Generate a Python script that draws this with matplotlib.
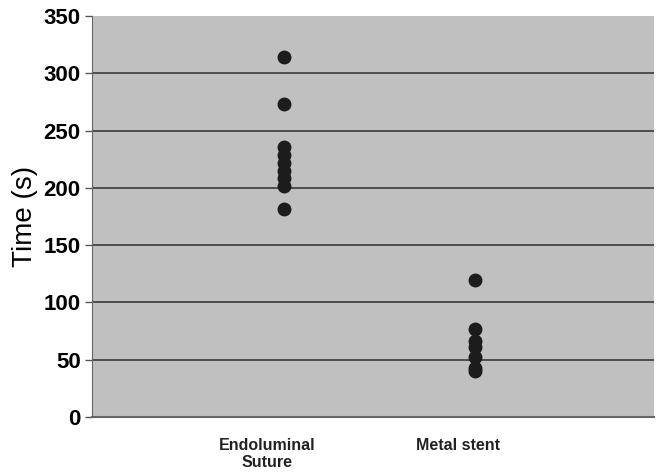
import numpy as np
import matplotlib.pyplot as plt
import matplotlib.transforms as mtransforms

plt.rcParams['font.family'] = ['Liberation Sans', 'DejaVu Sans']

categories = ["Endoluminal\nSuture", "Metal stent"]
suture_times = [314, 273, 236, 229, 222, 215, 209, 202, 182]
stent_times = [120, 77, 66, 61, 52, 43, 40]
yticks = [0, 50, 100, 150, 200, 250, 300, 350]

fig = plt.figure(figsize=(6.57, 4.72), dpi=100)
ax = fig.add_axes([0.140, 0.1165, 0.855, 0.8495])
ax.set_facecolor('#c0c0c0')

for i, vals in enumerate([suture_times, stent_times]):
    ax.plot([i + 1] * len(vals), vals, 'o', color='#1c1c1c',
            markersize=9, zorder=3)

ax.set_xlim(0, 2.93)
ax.set_ylim(0, 350)
ax.set_yticks(yticks)
ax.set_yticklabels([str(v) for v in yticks], fontsize=16, fontweight='bold')
ax.set_xticks([1, 2])
ax.set_xticklabels(categories, fontsize=11.5, fontweight='bold', color='#222222',
                   linespacing=1.15)
ax.tick_params(axis='x', length=0, pad=15)
ax.tick_params(axis='y', length=5, width=1, color='#555555', pad=3)

# labels sit a bit left of the dot columns in the original
shift = mtransforms.ScaledTranslation(-17 / 100, 0, fig.dpi_scale_trans)
for lab in ax.get_xticklabels():
    lab.set_transform(lab.get_transform() + shift)

for v in yticks[1:-1]:
    ax.axhline(v, color='#3a3a3a', linewidth=1.2, zorder=1)

for s in ['top', 'right']:
    ax.spines[s].set_visible(False)
ax.spines['left'].set_color('#666666')
ax.spines['bottom'].set_color('#666666')
ax.spines['bottom'].set_linewidth(1.5)

ax.set_ylabel("Time (s)", fontsize=20, labelpad=4)

fig.savefig("out.png", dpi=100)
